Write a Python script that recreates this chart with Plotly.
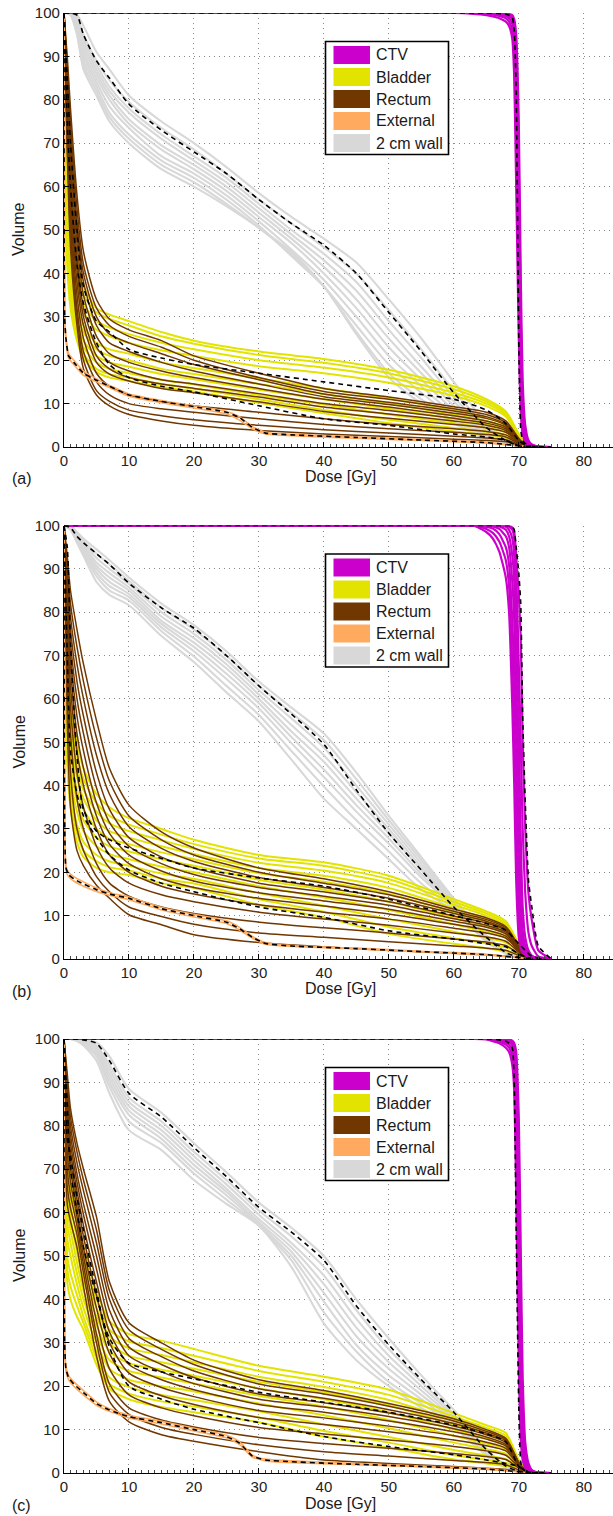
import plotly.graph_objects as go

# ---------------- dose grids (Gy) ----------------
DOSE_OAR = [0, 0.5, 1, 2, 3, 5, 7, 10, 15, 20, 30, 40, 50, 60, 65, 68, 70, 71, 72, 74]
DOSE_WALL = [0, 1, 2, 3, 5, 7, 10, 15, 20, 25, 30, 35, 40, 45, 50, 55, 60, 65, 68, 70, 72]
DOSE_EXT = [0, 0.1, 0.3, 0.7, 1.5, 3, 5, 7, 10, 15, 20, 25, 27, 29, 31, 35, 45, 55, 65, 70, 72]
DOSE_CTV = [0, 60, 63, 65, 66, 67, 68, 68.5, 69, 69.3, 69.6, 70, 70.3, 70.6, 71, 71.5, 72, 73, 75]

X_TICKS = [0, 10, 20, 30, 40, 50, 60, 70, 80]
Y_TICKS = [0, 10, 20, 30, 40, 50, 60, 70, 80, 90, 100]
LEGEND_LABELS = ["CTV", "Bladder", "Rectum", "External", "2 cm wall"]
PANEL_LABELS = ["(a)", "(b)", "(c)"]

# ---------------- panel (a) ----------------
A_WALL = [
    [100, 100, 99.5, 97, 91, 87, 81, 75, 70, 64.5, 58.5, 53, 48, 42.5, 34, 25, 15, 5.5, 2, 0.5, 0],
    [100, 100, 99, 95, 89, 84.5, 79.5, 73.5, 68.5, 63, 57, 51.5, 46, 40, 31.5, 22.5, 13, 4.8, 1.8, 0.4, 0],
    [100, 100, 98.5, 94, 88, 83, 78, 72, 67, 62, 56, 50, 44.5, 38, 29, 20.5, 11.5, 4.2, 1.6, 0.4, 0],
    [100, 100, 98, 93, 87, 82, 77, 71, 66, 61, 55, 49, 43, 36, 27, 18.5, 10.5, 3.8, 1.4, 0.3, 0],
    [100, 100, 97.5, 92, 86, 81, 75.5, 69.5, 65, 60, 54, 48, 41.5, 34, 25, 17, 9.5, 3.4, 1.3, 0.3, 0],
    [100, 100, 97, 91, 85, 80, 74.5, 68.5, 64, 59, 53, 47, 40, 32, 23, 15.5, 8.5, 3, 1.1, 0.3, 0],
    [100, 100, 96.5, 90, 84, 78.5, 73.5, 67, 63, 58, 52, 45.5, 38.5, 30, 21, 14, 7.5, 2.7, 1, 0.2, 0],
    [100, 100, 96, 89, 83, 77, 72, 66, 62, 57, 51, 44, 37, 28, 19, 12.5, 6.8, 2.4, 0.9, 0.2, 0],
    [100, 100, 95.5, 88, 82, 76, 71, 65, 61, 56, 50.5, 44.5, 37, 26.5, 17, 11, 6, 2.1, 0.8, 0.2, 0],
    [100, 99.5, 95, 87, 81, 75, 70, 64, 60, 55.5, 50.5, 45, 37, 26, 16, 10, 5.5, 1.9, 0.7, 0.2, 0],
]
A_WALL_MEAN = [100, 100, 99.5, 95, 89, 85, 79, 73, 68, 63, 57, 51.5, 46.5, 40, 31, 22, 12.5, 4.5, 1.5, 0.3, 0]

A_BLADDER = [
    [100, 66, 55, 43, 37, 32, 30.5, 29, 26.5, 24.5, 22, 20.3, 17.8, 14, 11, 8.2, 3, 1, 0.3, 0],
    [100, 62, 52, 41, 35, 31, 29.5, 28, 25.5, 23.8, 21.2, 19.4, 17, 13.3, 10.5, 7.8, 2.8, 0.9, 0.2, 0],
    [100, 58, 48, 38, 33, 29, 27.5, 26, 24, 22.5, 20, 18.3, 16, 12.5, 10, 7.4, 2.6, 0.8, 0.2, 0],
    [100, 55, 45, 36, 31, 27, 25.5, 24, 22.3, 21, 18.6, 17, 14.8, 11.8, 9.4, 7, 2.4, 0.7, 0.2, 0],
    [100, 52, 42, 33, 28, 24, 22.5, 21.5, 19.5, 18.2, 15.8, 13.5, 11.2, 8.5, 6.8, 5, 1.8, 0.5, 0.1, 0],
    [100, 50, 40, 31, 26.5, 22.5, 21, 20, 18, 16.8, 14.5, 12.2, 10, 7.5, 6, 4.5, 1.6, 0.5, 0.1, 0],
    [100, 48, 38, 29, 24.5, 21, 19.5, 18.5, 16.8, 15.6, 13.2, 11, 8.8, 6.5, 5.2, 4, 1.4, 0.4, 0.1, 0],
    [100, 46, 36, 27.5, 23, 19.5, 18, 17, 15.5, 14.4, 12, 9.8, 7.5, 5.5, 4.4, 3.4, 1.2, 0.4, 0.1, 0],
    [100, 44, 34, 26, 21.5, 18, 16.8, 16, 14.5, 13.5, 11, 8.5, 6.3, 4.4, 3.5, 2.8, 1, 0.3, 0.1, 0],
    [100, 42, 32, 24.5, 20.5, 17.3, 16, 15.2, 13.8, 12.8, 10.2, 7.8, 5.5, 3.6, 2.8, 2.2, 0.8, 0.2, 0, 0],
]
A_RECTUM = [
    [100, 90, 78, 58, 45, 34, 29.5, 27, 24.5, 21, 17, 13.5, 11.5, 9.3, 8, 6, 2, 0.5, 0.1, 0],
    [100, 88, 75, 55, 42, 32, 28, 25.5, 23, 20, 16, 12.8, 11, 8.8, 7.5, 5.6, 1.8, 0.5, 0.1, 0],
    [100, 86, 72, 52, 40, 30, 26, 24, 21.5, 19, 15.5, 12.2, 10.3, 8.3, 7, 5.2, 1.7, 0.4, 0.1, 0],
    [100, 84, 70, 50, 38, 28, 24, 22, 19.5, 17.5, 14.5, 11.6, 9.8, 7.8, 6.6, 5, 1.6, 0.4, 0.1, 0],
    [100, 82, 67, 47, 35, 25.5, 21.5, 19.5, 17.5, 16, 13.5, 11, 9.2, 7.2, 6, 4.6, 1.5, 0.4, 0.1, 0],
    [100, 80, 64, 44, 32, 23, 19.5, 17.5, 15.5, 14.5, 12.3, 10, 8.4, 6.6, 5.5, 4.2, 1.4, 0.3, 0, 0],
    [100, 78, 61, 41, 30, 21, 18, 16, 14.5, 13.5, 11.5, 9.2, 7.6, 6, 5, 3.8, 1.3, 0.3, 0, 0],
    [100, 76, 58, 38, 28, 19.5, 16.8, 15.2, 13.5, 12.5, 10.4, 8.2, 6.6, 5.2, 4.4, 3.4, 1.2, 0.3, 0, 0],
    [100, 74, 55, 35, 25, 17, 14, 12, 10.5, 9.5, 8, 6.5, 5.2, 4.2, 3.6, 2.8, 1, 0.2, 0, 0],
    [100, 72, 52, 32, 22, 15, 12, 10, 8.8, 8, 6.5, 5.2, 4.2, 3.4, 2.9, 2.3, 0.8, 0.2, 0, 0],
    [100, 70, 49, 30, 20, 13, 10.5, 8.5, 7.2, 6.3, 5, 4, 3.2, 2.5, 2.1, 1.7, 0.6, 0.1, 0, 0],
    [100, 68, 46, 28, 18, 12, 9.5, 7.5, 6, 5, 3.8, 3, 2.4, 1.8, 1.5, 1.2, 0.4, 0.1, 0, 0],
]
A_OAR_MEANS = [
    [100, 85, 70, 50, 37, 29, 26.5, 22.5, 20.5, 19, 17, 15, 13, 11, 8.5, 5.4, 1.5, 0.5, 0.1, 0],
    [100, 75, 60, 42, 33, 24, 19, 16, 14, 12.7, 9.5, 6.5, 5, 3, 2.3, 1.5, 0.3, 0.1, 0, 0],
]
A_EXTERNAL = [
    [100, 31, 25.5, 21.5, 20, 17.5, 15.7, 14.2, 12.2, 10.7, 9.5, 8.2, 7, 4.7, 3.4, 2.9, 2.3, 1.7, 1.1, 0.3, 0],
    [100, 29, 24.5, 20.5, 19, 16.5, 15, 13.7, 11.7, 10.2, 9, 7.6, 6.2, 4.2, 3, 2.6, 2, 1.5, 0.9, 0.3, 0],
]
A_EXTERNAL_MEAN = [100, 30, 25, 21, 19.5, 17, 15.4, 14, 12, 10.5, 9.3, 8, 6.8, 4.5, 3.2, 2.8, 2.2, 1.6, 1, 0.3, 0]
A_CTV = [
    [100, 100, 99.8, 99.5, 99.2, 98.8, 98, 97, 94, 85, 60, 25, 8, 3, 1.2, 0.5, 0.2, 0, 0],
    [100, 100, 100, 99.8, 99.6, 99.3, 98.8, 98, 96, 90, 70, 35, 12, 4, 1.5, 0.6, 0.2, 0, 0],
    [100, 100, 100, 100, 99.8, 99.6, 99.3, 98.8, 97.5, 94, 80, 45, 17, 6, 2, 0.8, 0.3, 0, 0],
    [100, 100, 100, 100, 100, 99.8, 99.6, 99.3, 98.5, 96, 87, 55, 22, 8, 2.5, 1, 0.4, 0.1, 0],
    [100, 100, 100, 100, 100, 100, 99.8, 99.6, 99.2, 97.5, 92, 65, 30, 11, 3.5, 1.2, 0.5, 0.1, 0],
    [100, 100, 100, 100, 100, 100, 99.9, 99.8, 99.5, 98.5, 95, 75, 40, 15, 5, 1.5, 0.6, 0.1, 0],
]
A_CTV_MEAN = [100, 100, 100, 100, 100, 99.9, 99.7, 99.5, 99, 96, 82, 25, 4, 1.5, 0.8, 0.4, 0.2, 0, 0]

# ---------------- panel (b) ----------------
B_WALL = [
    [100, 100, 98.5, 97, 94.5, 92, 88, 82, 77, 71, 64, 58, 52, 43, 33, 23.5, 14, 5.5, 1.8, 0.5, 0],
    [100, 100, 98.2, 96.5, 93.5, 91, 87.2, 81, 76, 70, 63, 56.8, 50.5, 41.5, 32, 22.8, 13.6, 5.3, 1.7, 0.5, 0],
    [100, 99.8, 98, 96, 92.5, 90, 86.5, 80, 75, 69, 62, 55.5, 48.8, 40, 31, 22, 13.3, 5.1, 1.6, 0.4, 0],
    [100, 99.7, 97.7, 95.5, 91.5, 89, 85.7, 79, 74, 68, 61, 54, 47, 38.5, 30, 21.2, 13, 4.9, 1.6, 0.4, 0],
    [100, 99.6, 97.4, 95, 90.7, 88, 85, 78, 73, 67, 60, 52.5, 45.5, 37, 29, 20.5, 12.6, 4.8, 1.5, 0.4, 0],
    [100, 99.5, 97.1, 94.5, 90, 87, 84.2, 77.3, 72, 65.8, 59, 51.2, 43.7, 35.5, 27.8, 19.6, 12.3, 4.6, 1.4, 0.4, 0],
    [100, 99.4, 96.8, 94, 89.2, 86, 83.5, 76.5, 71, 64.6, 57.8, 49.8, 42, 34, 26.6, 18.8, 12, 4.4, 1.4, 0.3, 0],
    [100, 99.2, 96.5, 93.6, 88.3, 85, 82.7, 75.6, 69.8, 63, 56.3, 48, 39.8, 32, 24.8, 17.4, 11.5, 4.2, 1.3, 0.3, 0],
    [100, 99, 96, 93, 87, 84, 81.6, 74.5, 68.5, 61.5, 54.8, 46, 37, 30, 23, 16, 11, 4, 1.2, 0.3, 0],
]
B_WALL_MEAN = [100, 99.5, 97.5, 96, 93.5, 91, 86.7, 81, 76.3, 70, 63, 56.5, 49.5, 39, 29, 20.5, 12, 5, 1.5, 0.4, 0]

B_BLADDER = [
    [100, 70, 60, 50, 44, 38, 35, 32.5, 30, 27.5, 24, 22.3, 19.2, 13.8, 11, 8.7, 3.5, 1.5, 0.4, 0],
    [100, 67, 57, 47, 41.5, 36, 33, 31, 28.7, 26.5, 23.2, 21.5, 18.4, 13.2, 10.5, 8.2, 3.3, 1.3, 0.3, 0],
    [100, 64, 54, 44.5, 39, 34, 31.3, 29.5, 27.4, 25.4, 22.2, 20.4, 17.5, 12.5, 10, 7.8, 3.1, 1.2, 0.3, 0],
    [100, 62, 51, 42, 37, 32, 29.5, 28, 26, 24.2, 21, 19.2, 16.4, 11.7, 9.3, 7.3, 2.9, 1.1, 0.3, 0],
    [100, 59, 48, 39, 34.5, 30, 27.7, 26.5, 24.6, 23, 19.8, 17.8, 15, 10.8, 8.6, 6.7, 2.7, 1, 0.2, 0],
    [100, 56, 45, 36.5, 32, 28, 26, 24.8, 23, 21.5, 18.3, 16, 13.2, 9.5, 7.5, 5.8, 2.4, 0.9, 0.2, 0],
    [100, 53, 42, 34, 29.5, 26, 24.2, 23, 21.3, 20, 16.8, 14.2, 11.3, 8, 6.3, 4.9, 2.1, 0.8, 0.2, 0],
    [100, 50, 39, 31, 27, 24, 22.5, 21.5, 19.7, 18.5, 15.2, 12.3, 9.2, 6.3, 4.9, 3.8, 1.8, 0.6, 0.1, 0],
    [100, 47, 37, 29, 25, 22.5, 21.2, 20.4, 18.5, 17.4, 13.8, 10.9, 7.4, 4.8, 3.6, 2.7, 1.5, 0.5, 0.1, 0],
    [100, 45, 35, 27, 23.5, 21, 20, 19.4, 17.5, 16.4, 12.5, 9.6, 5.8, 3.5, 2.5, 1.8, 1.2, 0.4, 0.1, 0],
]
B_RECTUM = [
    [100, 93, 85, 76, 68, 55, 44, 35.5, 29.3, 25.6, 21, 18.5, 15.5, 11.5, 9.5, 7.5, 3, 1, 0.3, 0],
    [100, 91, 82, 72, 64, 51, 41, 33, 27.5, 24, 20, 17.5, 14.8, 11, 9.1, 7.2, 2.8, 0.9, 0.3, 0],
    [100, 89, 79, 68, 60, 47, 38, 30.5, 25.5, 22.5, 18.8, 16.5, 14, 10.5, 8.7, 6.9, 2.7, 0.9, 0.2, 0],
    [100, 87, 76, 64, 56, 43, 34.5, 28, 23.5, 21, 17.5, 15.5, 13.2, 9.9, 8.3, 6.6, 2.6, 0.8, 0.2, 0],
    [100, 85, 73, 60, 52, 39.5, 31.5, 26, 22, 19.5, 16.5, 14.5, 12.4, 9.3, 7.8, 6.2, 2.4, 0.8, 0.2, 0],
    [100, 83, 70, 56, 48, 36, 29, 24, 20.3, 18, 15.3, 13.4, 11.5, 8.7, 7.3, 5.8, 2.3, 0.7, 0.2, 0],
    [100, 81, 67, 52, 44, 33, 26.5, 22, 18.5, 16.5, 14, 12.2, 10.4, 8, 6.7, 5.3, 2.1, 0.7, 0.2, 0],
    [100, 78, 63, 48, 40, 30, 24, 20, 16.8, 15, 12.5, 10.8, 9.2, 7.1, 6, 4.8, 1.9, 0.6, 0.1, 0],
    [100, 75, 58, 43, 35, 26, 21, 17.5, 14.8, 13.2, 10.8, 9.2, 7.8, 6, 5.1, 4.1, 1.6, 0.5, 0.1, 0],
    [100, 70, 52, 37, 30, 22, 17.5, 14.5, 12, 10.5, 8.5, 7.2, 6, 4.6, 3.9, 3.1, 1.2, 0.4, 0.1, 0],
    [100, 62, 43, 30, 25, 19, 15.5, 12, 9.8, 8, 6, 5, 4, 3, 2.5, 2, 0.8, 0.3, 0, 0],
    [100, 55, 35, 25, 21.5, 17, 14, 10.2, 7.9, 5.6, 3.8, 2.8, 2, 1.3, 1, 0.7, 0.3, 0.1, 0, 0],
]
B_OAR_MEANS = [
    [100, 95, 73, 47, 34.5, 29.5, 27.5, 25.6, 23.2, 21, 18.7, 16.8, 13.8, 10, 8.2, 6.6, 3.5, 2, 0.6, 0],
    [100, 70, 48, 38, 33, 28, 24, 20.5, 17.5, 15.5, 12, 9.6, 6.5, 4.6, 3.5, 2.8, 1.2, 0.5, 0.1, 0],
]
B_EXTERNAL = [
    [100, 33, 21.5, 20, 19, 17.8, 16.4, 15.3, 14.3, 11.9, 10.3, 8.8, 7.3, 5.2, 3.8, 3.1, 2.5, 1.8, 1.1, 0.3, 0],
    [100, 31, 20.5, 19, 18, 16.8, 15.6, 14.7, 13.7, 11.3, 9.7, 8.2, 6.7, 4.8, 3.4, 2.9, 2.3, 1.6, 0.9, 0.3, 0],
]
B_EXTERNAL_MEAN = [100, 32, 21, 19.5, 18.5, 17.3, 16, 15, 14, 11.6, 10, 8.5, 7, 5, 3.6, 3, 2.4, 1.7, 1, 0.3, 0]
B_CTV = [
    [100, 100, 100, 98.5, 97, 94, 88, 80, 58, 40, 18, 5, 2.5, 1.5, 0.9, 0.6, 0.4, 0.1, 0],
    [100, 100, 100, 99.2, 98.3, 96.3, 92, 86, 68, 52, 27, 8, 3.5, 2, 1.2, 0.7, 0.4, 0.1, 0],
    [100, 100, 100, 99.7, 99.3, 98, 95, 91, 78, 65, 40, 14, 5.5, 2.8, 1.5, 0.8, 0.5, 0.1, 0],
    [100, 100, 100, 100, 99.8, 99.2, 97.5, 95, 87, 78, 55, 24, 9, 4, 2, 1, 0.5, 0.1, 0],
    [100, 100, 100, 100, 100, 99.8, 99, 97.5, 93, 87, 70, 38, 16, 6.5, 3, 1.3, 0.6, 0.2, 0],
    [100, 100, 100, 100, 100, 100, 99.7, 99, 97, 93, 82, 54, 28, 12, 5, 2, 0.8, 0.2, 0],
    [100, 100, 100, 100, 100, 100, 100, 99.7, 99, 97, 89, 68, 50, 30, 15, 6, 3, 0.6, 0],
    [100, 100, 100, 100, 100, 100, 100, 100, 99.5, 98.5, 93, 84, 74, 50, 30, 15, 9, 2, 0],
]
B_CTV_MEAN = [100, 100, 100, 100, 100, 100, 100, 100, 99.8, 99, 95, 89, 82, 56, 36, 18, 12, 3, 0]

# ---------------- panel (c) ----------------
C_WALL = [
    [100, 100, 100, 99.8, 99.2, 96, 88.5, 83, 76, 69.3, 62.3, 56.5, 50, 40, 31, 22.5, 14.5, 5.6, 1.7, 0.4, 0],
    [100, 100, 100, 99.6, 98.5, 94, 86.5, 81, 74, 67.5, 60.5, 54.5, 47.5, 37.5, 28.5, 21, 13.5, 5.2, 1.6, 0.4, 0],
    [100, 100, 100, 99.4, 98, 93, 85.5, 80, 73, 66.5, 59.5, 53, 45.5, 35.5, 27, 20, 13, 5, 1.5, 0.4, 0],
    [100, 100, 99.9, 99.2, 97.5, 92, 84.5, 79, 72, 65.5, 58.5, 52, 43.5, 33.5, 25.5, 19, 12.5, 4.8, 1.5, 0.4, 0],
    [100, 100, 99.8, 99, 97, 91, 83.5, 78, 71, 64.8, 57.8, 51, 41.5, 31.5, 24, 18, 12, 4.6, 1.4, 0.3, 0],
    [100, 100, 99.7, 98.8, 96.5, 90, 82.5, 77, 70, 64, 57.3, 50, 39.5, 29.5, 22.5, 17, 11.5, 4.4, 1.4, 0.3, 0],
    [100, 100, 99.6, 98.7, 96, 89, 81, 76, 69, 63, 57, 49, 37, 28, 21, 16, 11, 4.2, 1.3, 0.3, 0],
    [100, 100, 99.5, 98.5, 95, 87.5, 79, 74.4, 67.5, 62, 57, 47.5, 34.5, 26, 20, 15, 10.5, 4, 1.2, 0.3, 0],
]
C_WALL_MEAN = [100, 100, 100, 99.8, 99, 95, 87.5, 82, 75, 68.3, 61.2, 55.5, 49, 38.5, 29.5, 21.5, 14, 5.4, 1.6, 0.4, 0]

C_BLADDER = [
    [100, 78, 70, 60, 52, 42, 35, 32, 30.5, 28.6, 24.7, 22.2, 19.2, 13.8, 11, 9.2, 3, 1.2, 0.4, 0],
    [100, 74, 66, 57, 49.5, 40, 33, 30.3, 28.8, 27, 23.5, 21, 18, 13, 10.4, 8.6, 2.8, 1.1, 0.3, 0],
    [100, 70, 62, 54, 47, 38, 31.5, 28.7, 27.2, 25.5, 22.2, 19.8, 16.8, 12.1, 9.7, 8, 2.6, 1, 0.3, 0],
    [100, 66, 59, 51, 44.5, 36, 30, 27, 25.5, 24, 21, 18.6, 15.6, 11.2, 9, 7.4, 2.4, 0.9, 0.3, 0],
    [100, 62, 56, 48.5, 42, 34, 28, 25.3, 23.8, 22.4, 19.5, 17, 14, 10, 8, 6.5, 2.2, 0.8, 0.2, 0],
    [100, 58, 53, 46, 40, 32, 26, 23.5, 22, 20.6, 17.8, 15.3, 12.2, 8.6, 6.8, 5.5, 2, 0.7, 0.2, 0],
    [100, 54, 50, 43.5, 38, 30, 24, 21.5, 20, 18.8, 16, 13.3, 10.3, 7, 5.5, 4.4, 1.8, 0.6, 0.2, 0],
    [100, 50, 46, 41, 36, 28, 22, 19.8, 18, 16.8, 14.2, 11.2, 8.3, 5.3, 4, 3.2, 1.5, 0.5, 0.1, 0],
    [100, 47, 43, 38.5, 34.5, 26.5, 20.5, 18.3, 16.5, 15.3, 12.8, 9.7, 7, 4.1, 3, 2.3, 1.3, 0.4, 0.1, 0],
    [100, 44, 40, 36, 33, 25, 19.4, 17, 15.2, 14, 11.7, 8.4, 5.8, 3.1, 2.2, 1.6, 1.2, 0.4, 0.1, 0],
]
C_RECTUM = [
    [100, 92, 84, 76, 70, 59, 44, 34.6, 30, 26, 21.5, 19, 16, 12.5, 10, 8, 2.5, 0.8, 0.2, 0],
    [100, 90, 82, 74, 67.5, 56, 42, 33, 28.5, 25, 20.5, 18.2, 15.4, 12, 9.6, 7.7, 2.4, 0.8, 0.2, 0],
    [100, 88, 80, 71.5, 65, 53, 40, 31, 26.8, 23.5, 19.4, 17.2, 14.6, 11.4, 9.2, 7.4, 2.3, 0.7, 0.2, 0],
    [100, 86, 78, 69, 62, 50, 37.5, 29, 25, 22, 18.2, 16.2, 13.8, 10.8, 8.8, 7, 2.2, 0.7, 0.2, 0],
    [100, 84, 76, 67, 59.5, 47, 35, 27, 23.3, 20.6, 17, 15.2, 13, 10.2, 8.3, 6.6, 2.1, 0.7, 0.2, 0],
    [100, 82, 74, 65, 57, 44, 32.5, 25, 21.5, 19.2, 15.8, 14, 12, 9.5, 7.8, 6.2, 2, 0.6, 0.2, 0],
    [100, 80, 72, 63, 54.5, 41, 30, 23, 19.7, 17.6, 14.4, 12.7, 10.8, 8.6, 7.1, 5.7, 1.9, 0.6, 0.1, 0],
    [100, 78, 70, 61, 52, 38, 27.5, 21, 17.8, 15.8, 12.8, 11.2, 9.5, 7.6, 6.3, 5.1, 1.7, 0.5, 0.1, 0],
    [100, 74, 67, 59, 50, 35, 24, 18, 15, 13.2, 10.5, 9, 7.6, 6.1, 5.1, 4.1, 1.4, 0.4, 0.1, 0],
    [100, 70, 64, 57, 48, 32, 20.5, 15, 12.2, 10.6, 8.2, 6.8, 5.7, 4.5, 3.8, 3.1, 1.1, 0.3, 0.1, 0],
    [100, 66, 61, 55, 46, 30, 18.5, 13.5, 10.5, 8.9, 6.5, 4.9, 3.9, 2.9, 2.4, 1.9, 0.7, 0.2, 0, 0],
    [100, 62, 58, 52, 43, 27, 16.5, 11.8, 8.8, 7.3, 4.9, 3, 2.2, 1.5, 1.1, 0.8, 0.3, 0.1, 0, 0],
]
C_OAR_MEANS = [
    [100, 85, 70, 60, 52, 40.7, 31, 25.3, 23.3, 21.7, 18.6, 16.3, 14, 11, 9, 7.2, 1.5, 0.5, 0.1, 0],
    [100, 77, 73, 63.6, 56, 42, 29, 20, 17, 14.7, 11.6, 8.4, 6.1, 4.2, 3, 2.2, 1.5, 0.5, 0.1, 0],
]
C_EXTERNAL = [
    [100, 31, 24.5, 22.5, 21, 19, 16.4, 14.8, 13.3, 11.9, 10.3, 8.7, 7.2, 4.1, 3.2, 2.8, 2.2, 1.6, 1, 0.3, 0],
    [100, 29, 23.5, 21.5, 20, 18, 15.6, 14.2, 12.7, 11.3, 9.7, 8.1, 6.6, 3.7, 2.8, 2.4, 1.9, 1.4, 0.8, 0.3, 0],
]
C_EXTERNAL_MEAN = [100, 30, 24, 22, 20.5, 18.5, 16, 14.5, 13, 11.6, 10, 8.4, 6.9, 3.9, 3, 2.6, 2, 1.5, 0.9, 0.3, 0]
C_CTV = [
    [100, 100, 100, 99.9, 99.5, 99, 98, 97, 94, 88, 65, 25, 8, 3, 1.2, 0.5, 0.2, 0, 0],
    [100, 100, 100, 100, 99.8, 99.4, 98.7, 98, 96, 91, 74, 35, 12, 4, 1.5, 0.6, 0.2, 0, 0],
    [100, 100, 100, 100, 99.9, 99.7, 99.2, 98.7, 97.5, 94, 82, 47, 18, 6, 2, 0.8, 0.3, 0.1, 0],
    [100, 100, 100, 100, 100, 99.9, 99.6, 99.3, 98.5, 96.5, 89, 58, 26, 9, 3, 1.1, 0.4, 0.1, 0],
    [100, 100, 100, 100, 100, 100, 99.8, 99.6, 99.2, 98, 94, 70, 36, 13, 4.5, 1.5, 0.5, 0.1, 0],
    [100, 100, 100, 100, 100, 100, 100, 99.9, 99.6, 99, 97, 82, 52, 22, 7, 2.2, 0.7, 0.1, 0],
]
C_CTV_MEAN = [100, 100, 100, 100, 100, 99.8, 99.5, 99, 98, 90, 56, 15, 2.5, 1, 0.5, 0.3, 0.1, 0, 0]

# ---------------- styling ----------------
COL_CTV = "#CC00CC"
COL_BLADDER = "#E2E400"
COL_RECTUM = "#703800"
COL_EXTERNAL = "#FFAA5E"
COL_WALL = "#D8D8D8"
LEGEND_COLORS = [COL_CTV, COL_BLADDER, COL_RECTUM, COL_EXTERNAL, COL_WALL]
FONT = "Liberation Sans, Arial, Helvetica, sans-serif"

W, H = 613, 1516
X0_PX, X1_PX = 64, 613
PANEL_TOP = [13, 525.5, 1039]
PANEL_BOT = [447, 959, 1473]

PANELS = [
    dict(wall=A_WALL, wall_mean=A_WALL_MEAN, bladder=A_BLADDER, rectum=A_RECTUM,
         oar_means=A_OAR_MEANS, ext=A_EXTERNAL, ext_mean=A_EXTERNAL_MEAN,
         ctv=A_CTV, ctv_mean=A_CTV_MEAN),
    dict(wall=B_WALL, wall_mean=B_WALL_MEAN, bladder=B_BLADDER, rectum=B_RECTUM,
         oar_means=B_OAR_MEANS, ext=B_EXTERNAL, ext_mean=B_EXTERNAL_MEAN,
         ctv=B_CTV, ctv_mean=B_CTV_MEAN),
    dict(wall=C_WALL, wall_mean=C_WALL_MEAN, bladder=C_BLADDER, rectum=C_RECTUM,
         oar_means=C_OAR_MEANS, ext=C_EXTERNAL, ext_mean=C_EXTERNAL_MEAN,
         ctv=C_CTV, ctv_mean=C_CTV_MEAN),
]


def px_x(px):
    return px / W


def px_y(py):
    return 1 - py / H


fig = go.Figure()
DASH = dict(color="black", width=1.6, dash="5px,4px")
SMOOTH = 0.7

for i, p in enumerate(PANELS):
    xa = "x" if i == 0 else f"x{i + 1}"
    ya = "y" if i == 0 else f"y{i + 1}"

    def add(xs, ys, line):
        fig.add_trace(go.Scatter(x=xs, y=ys, mode="lines", line=line, xaxis=xa, yaxis=ya,
                                 showlegend=False, hoverinfo="skip"))

    for c in p["wall"]:
        add(DOSE_WALL, c, dict(color=COL_WALL, width=2.1, shape="spline", smoothing=SMOOTH))
    for c in p["bladder"]:
        add(DOSE_OAR, c, dict(color=COL_BLADDER, width=2.0, shape="spline", smoothing=SMOOTH))
    for c in p["rectum"]:
        add(DOSE_OAR, c, dict(color=COL_RECTUM, width=1.5, shape="spline", smoothing=SMOOTH))
    for c in p["ext"]:
        add(DOSE_EXT, c, dict(color=COL_EXTERNAL, width=1.6, shape="spline", smoothing=0.5))
    for c in p["ctv"]:
        add(DOSE_CTV, c, dict(color=COL_CTV, width=2.2, shape="spline", smoothing=0.5))
    add(DOSE_WALL, p["wall_mean"], dict(DASH, shape="spline", smoothing=SMOOTH))
    for c in p["oar_means"]:
        add(DOSE_OAR, c, dict(DASH, shape="spline", smoothing=SMOOTH))
    add(DOSE_EXT, p["ext_mean"], dict(DASH, shape="spline", smoothing=0.5))
    add(DOSE_CTV, p["ctv_mean"], dict(DASH, shape="spline", smoothing=0.5))

# ---------------- axes ----------------
layout_axes = {}
for i in range(3):
    xk = "xaxis" if i == 0 else f"xaxis{i + 1}"
    yk = "yaxis" if i == 0 else f"yaxis{i + 1}"
    ya = "y" if i == 0 else f"y{i + 1}"
    xa = "x" if i == 0 else f"x{i + 1}"
    layout_axes[xk] = dict(
        domain=[px_x(X0_PX), px_x(X1_PX)], anchor=ya, range=[0, 84.5], automargin=False,
        tickmode="array", tickvals=X_TICKS, ticktext=[str(v) for v in X_TICKS],
        ticks="inside", ticklen=5, tickcolor="black", tickwidth=1,
        showline=True, linecolor="black", linewidth=1.2,
        showgrid=True, gridcolor="#8a8a8a", griddash="1px,4px", gridwidth=1,
        zeroline=False, tickfont=dict(family=FONT, size=15, color="#222"),
        minor=dict(ticks="inside", ticklen=2.5, dtick=1, tick0=0, tickcolor="#444",
                   showgrid=False),
    )
    layout_axes[yk] = dict(
        domain=[px_y(PANEL_BOT[i]), px_y(PANEL_TOP[i])], anchor=xa, range=[0, 100],
        automargin=False,
        tickmode="array", tickvals=Y_TICKS, ticktext=[str(v) for v in Y_TICKS],
        ticks="inside", ticklen=5, tickcolor="black", tickwidth=1,
        showline=True, linecolor="black", linewidth=1.2,
        showgrid=True, gridcolor="#8a8a8a", griddash="1px,4px", gridwidth=1,
        zeroline=False, tickfont=dict(family=FONT, size=15, color="#222"),
    )

# ---------------- legend boxes, labels ----------------
shapes = []
annotations = []
for i in range(3):
    T = PANEL_TOP[i]
    B = PANEL_BOT[i]
    shapes.append(dict(type="rect", xref="paper", yref="paper", layer="above",
                       x0=px_x(325.5), x1=px_x(448.5), y0=px_y(T + 141.5), y1=px_y(T + 28.5),
                       line=dict(color="black", width=1.6), fillcolor="white"))
    for k, (lab, col) in enumerate(zip(LEGEND_LABELS, LEGEND_COLORS)):
        cy = T + 42 + 22 * k
        shapes.append(dict(type="rect", xref="paper", yref="paper", layer="above",
                           x0=px_x(333.5), x1=px_x(370), y0=px_y(cy + 9), y1=px_y(cy - 9),
                           line=dict(width=0), fillcolor=col))
        annotations.append(dict(xref="paper", yref="paper", x=px_x(373.5), y=px_y(cy),
                                text=lab, showarrow=False, xanchor="left", yanchor="middle",
                                font=dict(family=FONT, size=16, color="#1a1a1a")))
    annotations.append(dict(xref="paper", yref="paper", x=px_x(19), y=px_y(T + 217),
                            text="Volume", textangle=-90, showarrow=False,
                            xanchor="center", yanchor="middle",
                            font=dict(family=FONT, size=16, color="#1a1a1a")))
    annotations.append(dict(xref="paper", yref="paper", x=px_x(340), y=px_y(B + 30),
                            text="Dose [Gy]", showarrow=False,
                            xanchor="center", yanchor="middle",
                            font=dict(family=FONT, size=16, color="#1a1a1a")))
    annotations.append(dict(xref="paper", yref="paper", x=px_x(22), y=px_y(B + 32),
                            text=PANEL_LABELS[i], showarrow=False,
                            xanchor="center", yanchor="middle",
                            font=dict(family=FONT, size=16, color="#1a1a1a")))

fig.update_layout(
    width=W, height=H, margin=dict(l=0, r=0, t=0, b=0),
    paper_bgcolor="white", plot_bgcolor="white",
    showlegend=False, shapes=shapes, annotations=annotations,
    **layout_axes,
)

# remove the browser's default 8px page margin so the figure fills the window exactly
fig.write_html(
    "out.html",
    config={"displayModeBar": False},
    post_script="document.body.style.margin='0';document.body.style.overflow='hidden';",
)
